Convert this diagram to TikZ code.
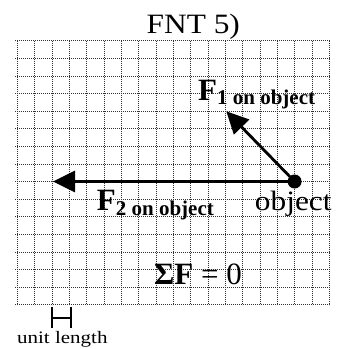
\documentclass[tikz,border=0pt]{standalone}
\usepackage{fontspec}
\setmainfont{Liberation Serif}
\usetikzlibrary{arrows.meta,calc}
\begin{document}
\begin{tikzpicture}[x=1pt,y=-1pt,
  gridline/.style={black!80,line width=0.6pt,dash pattern=on 0.8pt off 1.2pt},
  force/.style={line width=2.8pt,-{Triangle[length=22pt,width=21pt]}},
  lbl/.style={inner sep=0pt,anchor=base west},
  unitbar/.style={line width=1.8pt}]
\useasboundingbox (0,0) rectangle (339,349);
% grid
\foreach \k in {0,...,18}{
  \draw[gridline] ({17.3+17.333*\k},40.7) -- ({17.3+17.333*\k},304.7);
}
\foreach \j in {0,...,15}{
  \draw[gridline] (15,{40.7+17.6*\j}) -- (330,{40.7+17.6*\j});
}
% title
\node[inner sep=0pt,anchor=base] (title) at (193.3,33.3) {\scalebox{1.12}[1]{\fontsize{28}{28}\selectfont FNT 5)}};
% object
\node[circle,fill=black,inner sep=0pt,minimum size=14pt] (obj) at (294.6,181.5) {};
\coordinate (tip1) at (227,112);
\coordinate (tip2) at (53,181.5);
\draw[force,shorten >=-1pt] (obj.center) -- (tip1);
\draw[force] (obj.center) -- (tip2);
\node[inner sep=0pt,anchor=base] (objlbl) at (293.3,210.7) {\scalebox{1.12}[1]{\fontsize{28}{28}\selectfont object}};
% force labels
\node[lbl] (f1) at (198,100) {\fontsize{31}{31}\selectfont\bfseries F\raisebox{-4pt}{\fontsize{21}{21}\selectfont 1 on object}};
\node[lbl] (f2) at (96.7,210.7) {\fontsize{31}{31}\selectfont\bfseries F\raisebox{-5pt}{\fontsize{21}{21}\selectfont 2 on object}};
% sum
\node[lbl] (sum) at (154,284) {\fontsize{31}{31}\selectfont\textbf{ΣF} = 0};
% unit length
\coordinate (ua) at (52.3,307.3);
\coordinate (ub) at (70.7,307.3);
\draw[unitbar] (ua) -- ++(0,21);
\draw[unitbar] (ub) -- ++(0,21);
\draw[unitbar] ($(ua)+(0,10.5)$) -- ($(ub)+(0,10.5)$);
\node[inner sep=0pt,anchor=base] (unit) at (62.3,343.3) {\scalebox{1.2}[1]{\fontsize{17.5}{17.5}\selectfont unit length}};
\end{tikzpicture}
\end{document}
